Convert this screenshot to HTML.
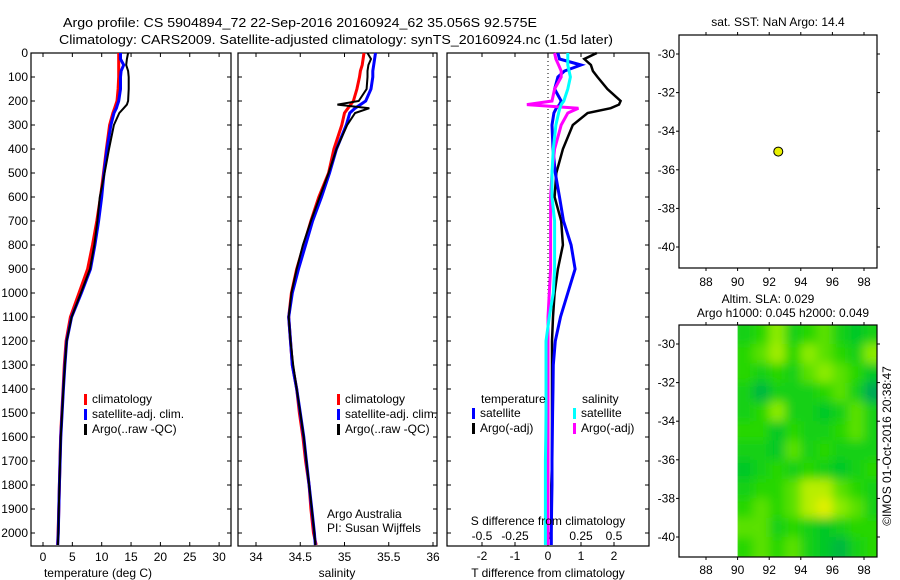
<!DOCTYPE html>
<html><head><meta charset="utf-8"><style>
html,body{margin:0;padding:0;background:#fff;}
svg{display:block;font-family:"Liberation Sans",sans-serif;}
</style></head><body>
<svg id="fig" width="900" height="580" viewBox="0 0 900 580" xmlns="http://www.w3.org/2000/svg">
<text x="63" y="27" font-size="13" textLength="474" lengthAdjust="spacingAndGlyphs">Argo profile: CS 5904894_72 22-Sep-2016 20160924_62 35.056S 92.575E</text>
<text x="59" y="44" font-size="13" textLength="554" lengthAdjust="spacingAndGlyphs">Climatology: CARS2009. Satellite-adjusted climatology: synTS_20160924.nc (1.5d later)</text>
<g id="g"></g>
</svg>
<script>
// ---- data ----
const depths = [0,25,50,75,100,150,200,215,230,250,300,400,500,600,700,800,900,1000,1100,1200,1300,1400,1500,1600,1700,1800,1900,2000,2050];
const climT = [12.9,12.9,12.9,12.9,12.9,12.8,12.6,12.4,12.2,11.9,11.35,10.8,10.3,9.8,9.16,8.43,7.6,6.13,4.67,3.94,3.63,3.42,3.21,3.0,2.9,2.79,2.69,2.58,2.48];
const satT = [13.2,13.2,13.75,13.3,13.2,13.2,12.9,12.7,12.5,12.1,11.56,10.9,10.4,10.0,9.47,8.85,8.1,6.55,4.88,4.04,3.73,3.48,3.25,3.03,2.92,2.8,2.7,2.6,2.5];
const argoT = [14.5,14.3,14.17,14.5,14.6,14.6,14.5,14.3,13.75,13.0,12.08,11.25,10.5,9.68,9.26,8.74,8.0,6.45,4.88,4.04,3.73,3.48,3.25,3.03,2.92,2.8,2.7,2.6,2.53];
const climS = [35.22,35.21,35.2,35.18,35.17,35.14,35.1,35.07,35.04,35.0,34.97,34.88,34.82,34.71,34.62,34.54,34.46,34.40,34.37,34.39,34.41,34.46,34.49,34.53,34.56,34.60,34.62,34.65,34.68];
const satS = [35.35,35.34,35.33,35.32,35.32,35.3,35.24,35.18,35.12,35.06,35.02,34.91,34.83,34.74,34.64,34.56,34.48,34.41,34.37,34.39,34.41,34.46,34.50,34.54,34.57,34.60,34.63,34.66,34.67];
const argoS = [35.26,35.3,35.27,35.26,35.26,35.25,35.16,34.92,35.28,35.12,35.03,34.91,34.82,34.72,34.62,34.53,34.46,34.40,34.37,34.39,34.42,34.46,34.50,34.54,34.57,34.60,34.63,34.66,34.67];
const dTargo = [1.48,1.1,1.3,1.36,1.5,1.8,2.2,2.15,1.9,1.2,0.75,0.45,0.25,0.2,0.4,0.45,0.3,0.2,0.15,0.12,0.12,0.12,0.12,0.12,0.12,0.1,0.1,0.1,0.1];
const dTsat = [0.3,0.35,1.0,0.5,0.3,0.2,0.4,0.35,0.25,0.18,0.12,0.15,0.22,0.35,0.47,0.7,0.82,0.6,0.38,0.22,0.16,0.15,0.14,0.13,0.12,0.12,0.11,0.1,0.1];
const dSargo = [0.05,0.06,0.08,0.1,0.1,0.05,0.03,-0.16,0.23,0.15,0.1,0.05,0.03,0.02,0.02,0.02,0.02,0.01,0,0,0,0,0,0,0,0,0,0,0];
const dSsat = [0.15,0.15,0.15,0.16,0.17,0.15,0.12,0.1,0.09,0.08,0.06,0.04,0.03,0.03,0.05,0.05,0.05,0.04,0.01,-0.015,-0.015,-0.015,-0.015,-0.017,-0.02,-0.02,-0.02,-0.02,-0.02];
const depthTicks = [0,100,200,300,400,500,600,700,800,900,1000,1100,1200,1300,1400,1500,1600,1700,1800,1900,2000];
const tempTicks = [0,5,10,15,20,25,30];
const salTicks = [34,34.5,35,35.5,36];
const salTickLabels = ["34","34.5","35","35.5","36"];
const dTTicks = [-2,-1,0,1,2];
const dSTicks = [-0.5,-0.25,0,0.25,0.5];
const dSTickLabels = ["-0.5","-0.25","0","0.25","0.5"];
const lonTicks = [88,90,92,94,96,98];
const latTicks = [-30,-32,-34,-36,-38,-40];
const latTickLabels = ["-30","-32","-34","-36","-38","-40"];
const floatLon = [92.575];
const floatLat = [-35.056];
const slaLons = [90,91,92,93,94,95,96,97,98];
const slaLats = [-29,-30,-31,-32,-33,-34,-35,-36,-37,-38,-39,-40];
const slaGrid = [
 [.4,.5,.7,.4,.5,.6,.4,.3,.4],
 [.5,.6,.75,.5,.7,.6,.5,.4,.7],
 [.5,.4,.5,.4,.6,.7,.6,.5,.3],
 [.4,.2,.4,.4,.4,.5,.6,.4,.1],
 [.4,.5,.7,.4,.4,.3,.4,.6,.4],
 [.5,.5,.3,.5,.4,.4,.5,.6,.4],
 [.4,.4,.3,.6,.4,.5,.4,.4,.4],
 [.3,.4,.5,.4,.5,.4,.3,.4,.5],
 [.4,.5,.5,.6,.8,.8,.6,.5,.4],
 [.5,.6,.5,.6,.8,.9,.7,.6,.4],
 [.6,.6,.4,.5,.4,.3,.4,.5,.5],
 [.5,.6,.5,.6,.4,.3,.2,.4,.5]];

// ---- helpers ----
const NS="http://www.w3.org/2000/svg";
const G=document.getElementById('g');
function el(tag,attrs,parent){const e=document.createElementNS(NS,tag);for(const k in attrs)e.setAttribute(k,attrs[k]);(parent||G).appendChild(e);return e;}
function txt(x,y,s,size,anchor,parent){const t=el('text',{x:x,y:y,'font-size':size,'text-anchor':anchor||'start'},parent);t.textContent=s;return t;}
const TOP=53, PXM=0.24, BOT=546;
const yD=d=>TOP+d*PXM;
const xT=v=>43+5.87*v;
const xS=v=>256+88.5*(v-34);
const xdT=v=>548+33*v;
const xdS=v=>548+132*v;

function frame(x0,x1,y0,y1,name){
  const r=el('rect',{x:x0,y:y0,width:x1-x0,height:y1-y0,fill:'none',stroke:'#000','stroke-width':1.2});
  
  
}
function depthAxis(x0,x1,labels){
  depthTicks.forEach(d=>{
    const y=yD(d);
    el('line',{x1:x0,y1:y,x2:x0+4,y2:y,stroke:'#000'});
    el('line',{x1:x1,y1:y,x2:x1-4,y2:y,stroke:'#000'});
    if(labels){const t=txt(x0-3,y+4,String(d),12,'end');
      
      }
  });
}
function xTicks(vals,fx,labs,ly){
  vals.forEach((v,i)=>{const x=fx(v);
    el('line',{x1:x,y1:TOP,x2:x,y2:TOP+4,stroke:'#000'});
    el('line',{x1:x,y1:BOT,x2:x,y2:BOT-4,stroke:'#000'});
    if(labs){const t=txt(x,ly,labs[i],12,'middle');
      
      }
  });
}
function profile(vals,fx,color,w,name){
  const pts=vals.map((v,i)=>fx(v).toFixed(1)+','+yD(depths[i]).toFixed(1)).join(' ');
  const p=el('polyline',{points:pts,fill:'none',stroke:color,'stroke-width':w,'stroke-linejoin':'miter'});
  
  
}
function legend(x,y,items){
  items.forEach((it,i)=>{
    el('rect',{x:x,y:y+i*15-9,width:3,height:11,fill:it[1]});
    const t=txt(x+8,y+i*15,it[0],12,'start');
    
    
  });
}

// ---- panel 1: temperature ----
frame(31,231,TOP,BOT,'temperature-panel');
depthAxis(31,231,true);
xTicks(tempTicks,xT,tempTicks.map(String),561);
profile(climT,xT,'#ff0000',3,'temperature-climatology-line');
profile(satT,xT,'#0000ff',3,'temperature-satellite-line');
profile(argoT,xT,'#000000',2,'temperature-argo-line');
legend(84,403,[['climatology','#ff0000'],['satellite-adj. clim.','#0000ff'],['Argo(..raw -QC)','#000000']]);
let t=txt(98,577,'temperature (deg C)',12,'middle');



// ---- panel 2: salinity ----
frame(238,437,TOP,BOT,'salinity-panel');
depthAxis(238,437,false);
xTicks(salTicks,xS,salTickLabels,561);
profile(climS,xS,'#ff0000',3,'salinity-climatology-line');
profile(satS,xS,'#0000ff',3,'salinity-satellite-line');
profile(argoS,xS,'#000000',2,'salinity-argo-line');
legend(337,403,[['climatology','#ff0000'],['satellite-adj. clim.','#0000ff'],['Argo(..raw -QC)','#000000']]);
t=txt(327,518,'Argo Australia',12,'start');


t=txt(327,532,'PI: Susan Wijffels',12,'start');


t=txt(337,577,'salinity',12,'middle');



// ---- panel 3: differences ----
frame(447,649,TOP,BOT,'difference-panel');
depthAxis(447,649,false);
xTicks(dTTicks,xdT,dTTicks.map(String),560);
dSTicks.forEach((v,i)=>{const tt=txt(xdS(v),540,dSTickLabels[i],12,'middle');
  
  });
el('line',{x1:xdT(0),y1:TOP,x2:xdT(0),y2:BOT,stroke:'#000','stroke-dasharray':'1,3'});
profile(dTargo,xdT,'#000000',2.5,'t-diff-argo-line');
profile(dTsat,xdT,'#0000ff',3,'t-diff-satellite-line');
profile(dSargo,xdS,'#ff00ff',3,'s-diff-argo-line');
profile(dSsat,xdS,'#00ffff',3,'s-diff-satellite-line');
t=txt(481,403,'temperature',12,'start');


t=txt(582,403,'salinity',12,'start');


legend(472,417,[['satellite','#0000ff'],['Argo(-adj)','#000000']]);
legend(573,417,[['satellite','#00ffff'],['Argo(-adj)','#ff00ff']]);
t=txt(548,525,'S difference from climatology',12,'middle');


t=txt(548,577,'T difference from climatology',12,'middle');



// ---- maps ----
const mxL=679,mxR=877;
const xLon=v=>706+15.8*(v-88);
function mapAxes(y0,y1,yLat,lblY,name){
  frame(mxL,mxR,y0,y1,name);
  lonTicks.forEach(v=>{const x=xLon(v);
    el('line',{x1:x,y1:y0,x2:x,y2:y0-3,stroke:'#000'});
    el('line',{x1:x,y1:y1,x2:x,y2:y1+3,stroke:'#000'});
    const tt=txt(x,lblY,String(v),12,'middle');
    
    });
  latTicks.forEach((v,i)=>{const y=yLat(v);
    el('line',{x1:mxL,y1:y,x2:mxL-3,y2:y,stroke:'#000'});
    el('line',{x1:mxR,y1:y,x2:mxR+3,y2:y,stroke:'#000'});
    const tt=txt(mxL-4,y+4,latTickLabels[i],12,'end');
    
    });
}
// top map
const yLat1=v=>54+19.3*(-30-v);
t=txt(778,26,'sat. SST: NaN Argo: 14.4',12,'middle');


mapAxes(35,268,yLat1,286,'sst-map');
floatLon.forEach((lo,i)=>{const c=el('circle',{cx:xLon(lo),cy:yLat1(floatLat[i]),r:4.5,fill:'#e8f000',stroke:'#000','stroke-width':1});
  
  });

// bottom map
const yLat2=v=>344+19.3*(-30-v);
t=txt(768,303,'Altim. SLA: 0.029',12,'middle');


t=txt(783,317,'Argo h1000: 0.045 h2000: 0.049',12,'middle');


const defs=el('defs',{});
const cp=el('clipPath',{id:'mclip'},defs);
el('rect',{x:xLon(90),y:325,width:mxR-xLon(90),height:232},cp);
const fl=el('filter',{id:'blur',x:'-10%',y:'-10%',width:'120%',height:'120%'},defs);
el('feGaussianBlur',{stdDeviation:5},fl);
const hg=el('g',{'clip-path':'url(#mclip)'});
const hg2=el('g',{filter:'url(#blur)'},hg);
function slaColor(v){
  const stops=[[0,[0,150,110]],[0.3,[0,200,40]],[0.5,[40,215,0]],[0.7,[140,235,0]],[0.9,[225,240,0]]];
  let a=stops[0],b=stops[stops.length-1];
  for(let i=0;i<stops.length-1;i++){if(v>=stops[i][0]&&v<=stops[i+1][0]){a=stops[i];b=stops[i+1];break;}}
  const f=b[0]===a[0]?0:(v-a[0])/(b[0]-a[0]);
  return 'rgb('+a[1].map((c,k)=>Math.round(c+(b[1][k]-c)*f)).join(',')+')';
}
slaLats.forEach((la,r)=>slaLons.forEach((lo,c)=>{
  const x0=xLon(lo)-(c===0?8:0), x1=xLon(lo+1)+(c===slaLons.length-1?8:0);
  const y0=yLat2(la)-(r===0?8:0), y1=yLat2(la-1)+(r===slaLats.length-1?8:0);
  const rc=el('rect',{x:x0,y:y0,width:x1-x0+0.5,height:y1-y0+0.5,fill:slaColor(slaGrid[r][c])},hg2);
  
  
}));
mapAxes(325,557,yLat2,574,'sla-map');
t=txt(0,0,'\u00A9IMOS 01-Oct-2016 20:38:47',12,'middle');
t.setAttribute('transform','translate(891,446) rotate(-90)');


</script>
</body></html>
